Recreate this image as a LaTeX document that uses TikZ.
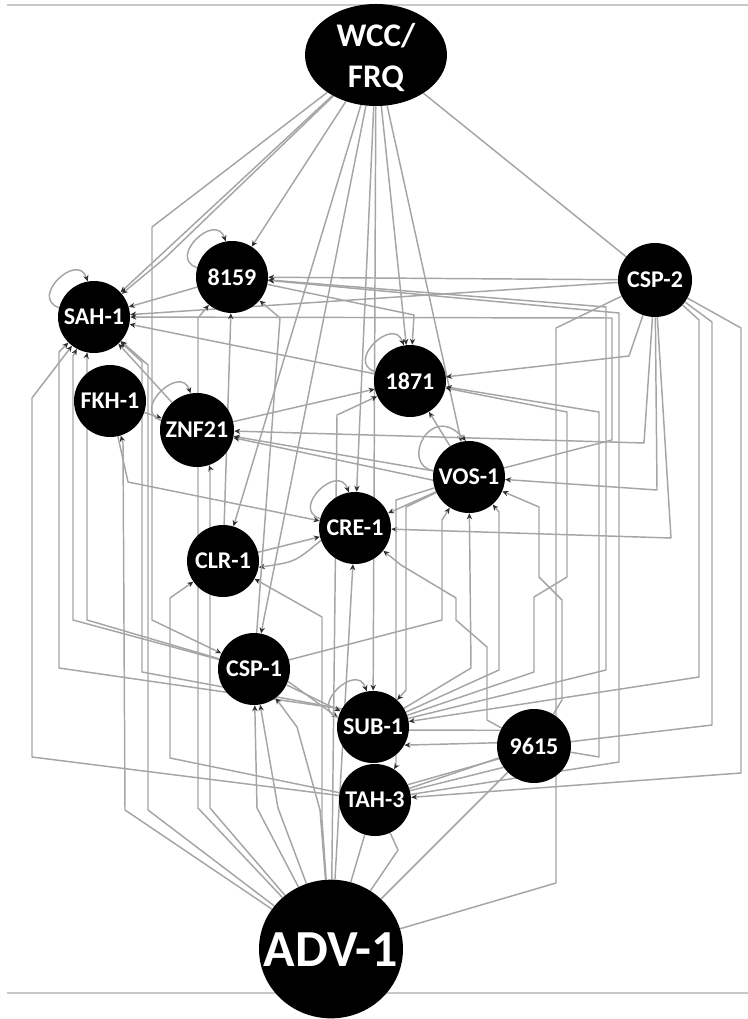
\documentclass[tikz,border=0pt]{standalone}
\usepackage{fontspec}
\setmainfont{Carlito}
\usetikzlibrary{arrows.meta,shapes.geometric}
\definecolor{linegray}{HTML}{A5A5A5}
\definecolor{tipgray}{HTML}{2E2E2E}
\definecolor{rulegray}{HTML}{C8C8C8}
\pgfdeclarelayer{bg}
\pgfsetlayers{bg,main}
\newcommand\selfloop[1]{\draw[e] (#1.165) .. controls ([shift={(-30,-10)}]#1.165) and ([shift={(-10,-30)}]#1.100) .. (#1.100);}
\begin{document}
\begin{tikzpicture}[x=0.75pt,y=-0.75pt,
  gene/.style={circle,fill=black,inner sep=0pt,minimum size=54pt,text=white,
    font=\bfseries\fontsize{18}{18}\selectfont},
  hub/.style={ellipse,fill=black,inner sep=0pt},
  hublabel/.style={text=white,align=center,inner sep=0pt},
  e/.style={draw=linegray,line width=1.1pt,line join=round,
    -{Stealth[length=4.5pt,width=4pt,color=tipgray]}},
  ep/.style={draw=linegray,line width=1.1pt,line join=round},
  rule/.style={draw=rulegray,line width=1.5pt}]
\useasboundingbox (0,0) rectangle (748,1019);
\draw[rule] (7,5) -- (748,5);
\draw[rule] (7,993) -- (748,993);

% genes
\node[hub,minimum width=106.5pt,minimum height=76.5pt] (wcc) at (376,55) {};
\node[hublabel,font=\bfseries\fontsize{24.75}{30.75}\selectfont] (wcclabel) at (376,57) {WCC/\\FRQ};
\node[gene] (n8159) at (232,277) {8159};
\node[gene] (sah)   at (94,317)  {SAH-1};
\node[gene,minimum size=55.5pt] (csp2) at (655,280) {CSP-2};
\node[gene] (n1871) at (410,381) {1871};
\node[gene] (fkh)   at (110,401) {FKH-1};
\node[gene,minimum size=55.5pt] (znf) at (197,430) {ZNF21};
\node[gene] (vos)   at (469,477) {VOS-1};
\node[gene] (cre)   at (355,528) {CRE-1};
\node[gene] (clr)   at (223,561) {CLR-1};
\node[gene] (csp1)  at (254,669) {CSP-1};
\node[gene] (sub)   at (373,727) {SUB-1};
\node[gene,minimum size=55.5pt] (n9615) at (534,746) {9615};
\node[gene] (tah)   at (375,800) {TAH-3};
\node[hub,minimum width=108pt,minimum height=104pt] (adv) at (331,949) {};
\node[hublabel,font=\bfseries\fontsize{39}{39}\selectfont] (advlabel) at (331,950) {ADV-1};

\begin{pgfonlayer}{bg}
% WCC/FRQ targets
\draw[e] (wcc) -- (152,227) -- (152,620) -- (csp1);
\draw[e] (wcc) -- (sah);
\draw[e] (wcc) -- (165,258) -- (sah);
\draw[e] (wcc) -- (n8159);
\draw[e] (wcc) -- (clr);
\draw[e] (wcc) -- (csp1);
\draw[e] (wcc) -- (cre);
\draw[e] (wcc) -- (n1871);
\draw[e] (wcc) -- (vos);
\draw[ep] (wcc) -- (csp2);
\draw[e] (wcc) -- (sub);

% CSP-2 targets
\draw[e] (csp2) -- (n8159);
\draw[e] (csp2) -- (sah);
\draw[e] (csp2) -- (629,356) -- (n1871);
\draw[e] (csp2) -- (644,443) -- (znf);
\draw[e] (csp2) -- (657,490) -- (vos);
\draw[e] (csp2) -- (671,538) -- (cre);
\draw[e] (csp2) -- (699,320) -- (699,677) -- (sub);
\draw[ep] (csp2) -- (712,322) -- (712,725) -- (n9615);
\draw[e] (csp2) -- (741,328) -- (741,773) -- (tah);
\draw[ep] (csp2) -- (556,328) -- (556,883) -- (adv);

% long right-hand routes
\draw[e] (n9615) -- (599,757) -- (599,412) -- (n1871);
\draw[e] (tah) -- (619,762) -- (619,313) -- (n8159);
\draw[e] (sub) -- (606,670) -- (606,307) -- (n8159);
\draw[e] (vos) -- (612,440) -- (612,318) -- (sah);
\draw[e] (sub) -- (534,672) -- (534,597) -- (567,577) -- (567,412) -- (n1871);
\draw[e] (n9615) -- (562,700) -- (562,600) -- (539,577) -- (539,507) -- (vos);
\draw[e] (sub) -- (499,670) -- (499,512) -- (vos);
\draw[e] (sub) -- (471,668) -- (vos);
\draw[e] (csp1) -- (442,620) -- (442,520) -- (vos);
\draw[e] (n9615) -- (487,720) -- (487,647) -- (456,620) -- (456,598) -- (401,565) -- (cre);
\draw[e] (vos) -- (406,507) -- (406,690) -- (sub);
\draw[e] (vos) -- (396,500) -- (396,766) -- (tah);

% 9615 to its left
\draw[e] (n9615.175) -- (sub.-30);
\draw[ep] (n9615.155) -- (sub.-5);
\draw[ep] (n9615) -- (tah);
\draw[ep] (n9615.200) -- (tah.25);
\draw[ep] (n9615.215) -- (tah.15);
\draw[ep] (n9615) -- (adv);

% left-hand routes up to SAH-1
\draw[e] (sub.150) -- (59,668) -- (59,352) -- (sah);
\draw[e] (csp1) -- (73,620) -- (73,356) -- (sah);
\draw[e] (csp1) -- (87,620) -- (87,354) -- (sah);
\draw[e] (sub.150) -- (142,672) -- (142,362) -- (sah);
\draw[e] (tah) -- (32,757) -- (32,398) -- (sah);
\draw[e] (tah) -- (170,758) -- (170,598) -- (clr);

% ADV-1 targets
\draw[e] (adv) -- (125,810) -- (123,443) -- (fkh);
\draw[e] (adv) -- (148,810) -- (148,365) -- (sah);
\draw[e] (adv) -- (198,808) -- (198,318) -- (n8159);
\draw[e] (adv) -- (210,808) -- (210,468) -- (znf);
\draw[e] (adv) -- (257,808) -- (csp1);
\draw[e] (adv) -- (278,808) -- (csp1);
\draw[e] (adv) -- (320,810) -- (297,727) -- (csp1);
\draw[ep] (adv) -- (tah);
\draw[ep] (adv) -- (398,850) -- (tah);
\draw[e] (adv) -- (cre);
\draw[e] (adv) -- (322,820) -- (322,617) -- (clr);
\draw[e] (adv) -- (337,415) -- (n1871);

% middle of the network
\draw[e] (fkh) -- (znf);
\draw[e] (znf) -- (n1871);
\draw[e] (vos) -- (znf);
\draw[e] (vos.185) -- (znf.-12);
\draw[e] (znf) -- (sah);
\draw[e] (fkh) -- (128,482) -- (cre);
\draw[e] (clr) -- (cre);
\draw[e] (cre.200) .. controls (295,562) .. (clr.-10);
\draw[e] (clr) -- (n8159);
\draw[e] (csp1) -- (280,318) -- (n8159);
\draw[e] (n8159) -- (sah);
\draw[e] (n8159) -- (414,315) -- (n1871);
\draw[e] (n1871) -- (sah);
\draw[e] (vos) -- (n1871);
\draw[e] (vos) -- (cre);
\draw[e] (csp1) -- (sub);
\draw[e] (csp1.-20) -- (sub.165);

% self-regulation
\selfloop{sah}
\selfloop{n8159}
\selfloop{n1871}
\selfloop{znf}
\selfloop{cre}
\selfloop{sub}
\draw[e] (vos.170) .. controls (400,465) and (430,400) .. (vos.95);
\end{pgfonlayer}
\end{tikzpicture}
\end{document}
